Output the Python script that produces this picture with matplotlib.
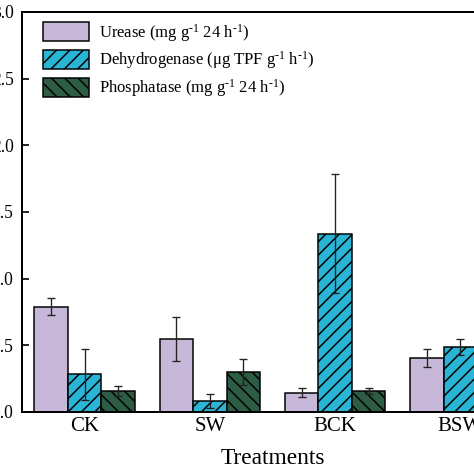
import numpy as np
import matplotlib
matplotlib.use("Agg")
import matplotlib.pyplot as plt

plt.rcParams['font.family'] = ['Liberation Serif', 'DejaVu Serif']
plt.rcParams['mathtext.fontset'] = 'custom'
plt.rcParams['mathtext.rm'] = 'Liberation Serif'
plt.rcParams['mathtext.default'] = 'regular'
plt.rcParams['hatch.linewidth'] = 0.9

# data
treatments = ["CK", "SW", "BCK", "BSW"]
urease = [0.79, 0.548, 0.145, 0.405]
urease_err = [0.065, 0.165, 0.035, 0.065]
dehydrogenase = [0.283, 0.083, 1.337, 0.49]
dehydrogenase_err = [0.19, 0.05, 0.445, 0.06]
phosphatase = [0.158, 0.30, 0.158, 0.22]
phosphatase_err = [0.04, 0.10, 0.025, 0.03]

series_labels = [
    "Urease (mg g$^{\\text{-}1}$ 24 h$^{\\text{-}1}$)",
    "Dehydrogenase (\u03bcg TPF g$^{\\text{-}1}$ h$^{\\text{-}1}$)",
    "Phosphatase (mg g$^{\\text{-}1}$ 24 h$^{\\text{-}1}$)",
]

colors = ["#C7B8DA", "#2AB5D6", "#2D5C44"]
hatches = ["", "///", "\\\\\\"]

fig = plt.figure(figsize=(3.95, 3.95), dpi=120)
ax = fig.add_axes([22 / 474, 62 / 474, 501 / 474, 400 / 474])

x = np.arange(len(treatments))
w = 0.267
values = [urease, dehydrogenase, phosphatase]
errors = [urease_err, dehydrogenase_err, phosphatase_err]
for i in range(3):
    ax.bar(x + (i - 1) * w, values[i], w, color=colors[i], edgecolor="black",
           linewidth=0.9, hatch=hatches[i], label=series_labels[i], zorder=2)
    ax.errorbar(x + (i - 1) * w, values[i], yerr=errors[i], fmt="none",
                ecolor="#222222", elinewidth=0.8, capsize=2.6, capthick=0.8,
                zorder=3)

ax.set_xlim(-0.5, 3.5)
ax.set_ylim(0, 3.0)
ax.set_yticks(np.arange(0, 3.01, 0.5))
ax.set_yticklabels(["%.1f" % v for v in np.arange(0, 3.01, 0.5)])
ax.set_xticks(x)
ax.set_xticklabels(treatments)
ax.tick_params(axis="x", length=0, pad=3, labelsize=12.5)
ax.tick_params(axis="y", direction="in", length=4, width=1.0, pad=5,
               labelsize=10.5)
for s in ax.spines.values():
    s.set_linewidth(1.2)
ax.set_xlabel("Treatments", fontsize=14, labelpad=7.5)

ax.legend(loc="upper left", bbox_to_anchor=(20.7 / 501, 1 - 9.7 / 400),
          frameon=False, fontsize=10, handlelength=2.8, handleheight=1.36,
          handletextpad=0.6, labelspacing=0.35, borderpad=0,
          borderaxespad=0)

fig.savefig("out.png", dpi=120)
